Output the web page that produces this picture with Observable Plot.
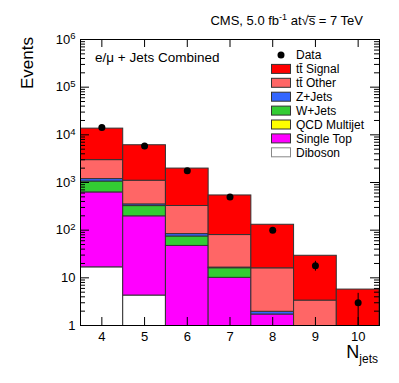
<!DOCTYPE html>
<html><head><meta charset="utf-8">
<script src="https://cdn.jsdelivr.net/npm/d3@7"></script>
<script src="https://cdn.jsdelivr.net/npm/@observablehq/plot@0.6"></script>
<style>body{margin:0;background:#fff} #chart{width:399px;height:383px}</style>
</head><body><div id="chart"></div>
<script>
// ---- data ----
const categories = [4, 5, 6, 7, 8, 9, 10];
const diboson     = [16.6, 4.25, 0, 0, 0, 0, 0];
const singleTop   = [603, 191, 46.7, 10, 1.7, 0, 0];
const qcdMultijet = [0, 0, 0, 0, 0, 0, 0];
const wJets       = [430, 125, 27, 5.9, 0, 0, 0];
const zJets       = [130, 27, 9, 0.5, 0.24, 0, 0];
const ttOther     = [1770, 743, 239, 62.6, 13.9, 3.33, 0.8];
const ttSignal    = [10550, 4960, 1638, 456, 114, 25.7, 4.87];
const dataCounts  = [14200, 5800, 1770, 496, 99, 18, 3];
const dataErrLow  = [119, 76, 42, 22, 10, 4.2, 2.0];
const dataErrHigh = [119, 76, 42, 22, 10, 4.2, 1.73];
const seriesNames = ["Diboson", "Single Top", "QCD Multijet", "W+Jets", "Z+Jets", "tt\u0304 Other", "tt\u0304 Signal"];
const yTickValues = [1, 10, 100, 1000, 10000, 100000, 1000000];
const yTickLabels = ["1", "10", "10^2", "10^3", "10^4", "10^5", "10^6"];

// ---- styles ----
const seriesColors = ["#ffffff", "#ff00ff", "#ffff00", "#33cc33", "#3366ff", "#ff6666", "#ff0000"];
const FONT = "'Liberation Sans', Arial, Helvetica, sans-serif";
const W = 399, H = 383, ML = 80, MR = 20, MT = 39, MB = 58;
const PW = W - ML - MR, PH = H - MT - MB;

// ---- build stacked boxes ----
const seriesValues = [diboson, singleTop, qcdMultijet, wJets, zJets, ttOther, ttSignal];
const boxes = [];
categories.forEach((c, i) => {
  let cum = 0;
  seriesValues.forEach((vals, s) => {
    const lo = cum; cum += vals[i];
    if (vals[i] > 0 && cum > 1) boxes.push({x1: c - 0.5, x2: c + 0.5, y1: Math.max(lo, 0.3), y2: cum, name: seriesNames[s]});
  });
});
const points = categories.map((c, i) => ({x: c, y: dataCounts[i], lo: Math.max(dataCounts[i] - dataErrLow[i], 0.3), hi: dataCounts[i] + dataErrHigh[i]}));
const minorTicks = [];
for (let e = 0; e < 6; e++) for (let m = 2; m <= 9; m++) minorTicks.push(m * Math.pow(10, e));

const tickStyle = {stroke: "#000", strokeWidth: 1};
const chart = Plot.plot({
  width: W, height: H,
  marginTop: MT, marginBottom: MB, marginLeft: ML, marginRight: MR,
  style: {fontFamily: FONT, fontSize: "13px", color: "#000", background: "#fff"},
  x: {domain: [3.5, 10.5], axis: null},
  y: {type: "log", domain: [1, 1e6], axis: null},
  color: {domain: seriesNames, range: seriesColors},
  marks: [
    Plot.rect(boxes, {x1: "x1", x2: "x2", y1: "y1", y2: "y2", fill: "name", stroke: "#333", strokeWidth: 1, clip: true}),
    Plot.ruleX(points, {x: "x", y1: "lo", y2: "hi", stroke: "#000", strokeWidth: 1, clip: true}),
    Plot.dot(points, {x: "x", y: "y", r: 3.5, fill: "#000", stroke: null}),
    // tick labels
    Plot.axisX({anchor: "bottom", ticks: categories, tickSize: 0, tickPadding: 6, tickFormat: d => String(d), label: null, fontSize: 13}),
    Plot.axisY({anchor: "left", ticks: yTickValues, tickSize: 0, tickPadding: 5, tickFormat: d => yTickLabels[yTickValues.indexOf(d)], label: null, fontSize: 13}),
    // inward ticks
    Plot.ruleX(categories, {x: d => d, insetTop: PH - 8, ...tickStyle}),
    Plot.ruleX(categories, {x: d => d, insetBottom: PH - 8, ...tickStyle}),
    Plot.ruleY(yTickValues, {y: d => d, insetRight: PW - 9, ...tickStyle}),
    Plot.ruleY(minorTicks, {y: d => d, insetRight: PW - 5, ...tickStyle}),
    Plot.ruleY(yTickValues, {y: d => d, insetLeft: PW - 9, ...tickStyle}),
    Plot.ruleY(minorTicks, {y: d => d, insetLeft: PW - 5, ...tickStyle}),
    Plot.frame({stroke: "#000", strokeWidth: 1})
  ]
});
document.getElementById("chart").appendChild(chart);

const svg = d3.select(chart);
// superscript tick labels
svg.selectAll("text").each(function() {
  const t = d3.select(this);
  const s = t.text();
  if (s.includes("^")) {
    const [base, exp] = s.split("^");
    t.text(null);
    t.append("tspan").text(base);
    t.append("tspan").attr("dy", "-0.45em").attr("font-size", "9.5px").text(exp);
  }
});

// title
const title = svg.append("text").attr("x", 363).attr("y", 25).attr("text-anchor", "end")
  .attr("font-family", FONT).attr("font-size", 13).attr("fill", "#000");
title.append("tspan").text("CMS, 5.0 fb");
title.append("tspan").attr("dy", -5).attr("font-size", 9).text("-1");
title.append("tspan").attr("dy", 5).text(" at\u221As\u0305 = 7 TeV");

// channel label
svg.append("text").attr("x", 95).attr("y", 62).attr("text-anchor", "start").attr("font-family", FONT).attr("font-size", 13.5)
  .text("e/\u03bc + Jets Combined");

// y label
svg.append("text").attr("transform", "translate(33,37) rotate(-90)").attr("text-anchor", "end")
  .attr("font-family", FONT).attr("font-size", 17).text("Events");

// x label
const xl = svg.append("text").attr("x", 378).attr("y", 358).attr("text-anchor", "end").attr("font-family", FONT);
xl.append("tspan").attr("font-size", 18).text("N");
xl.append("tspan").attr("dy", 5).attr("font-size", 12).text("jets");

// legend
const legendItems = [{name: "Data", kind: "dot"}].concat(
  seriesNames.map((n, i) => ({name: n, kind: "box", color: seriesColors[i]})).reverse());
const lg = svg.append("g").attr("font-family", FONT).attr("font-size", 12).attr("text-anchor", "start");
legendItems.forEach((d, i) => {
  const cy = 55 + i * 13.9;
  if (d.kind === "dot") {
    lg.append("circle").attr("cx", 281).attr("cy", cy).attr("r", 3.5).attr("fill", "#000");
  } else {
    lg.append("rect").attr("x", 271.5).attr("y", cy - 4.5).attr("width", 19).attr("height", 9)
      .attr("fill", d.color).attr("stroke", d.name === "Diboson" ? "#888" : "#333").attr("stroke-width", 1);
  }
  lg.append("text").attr("x", 296).attr("y", cy).attr("dy", "0.36em").attr("text-anchor", "start").text(d.name);
});
</script>
</body></html>
